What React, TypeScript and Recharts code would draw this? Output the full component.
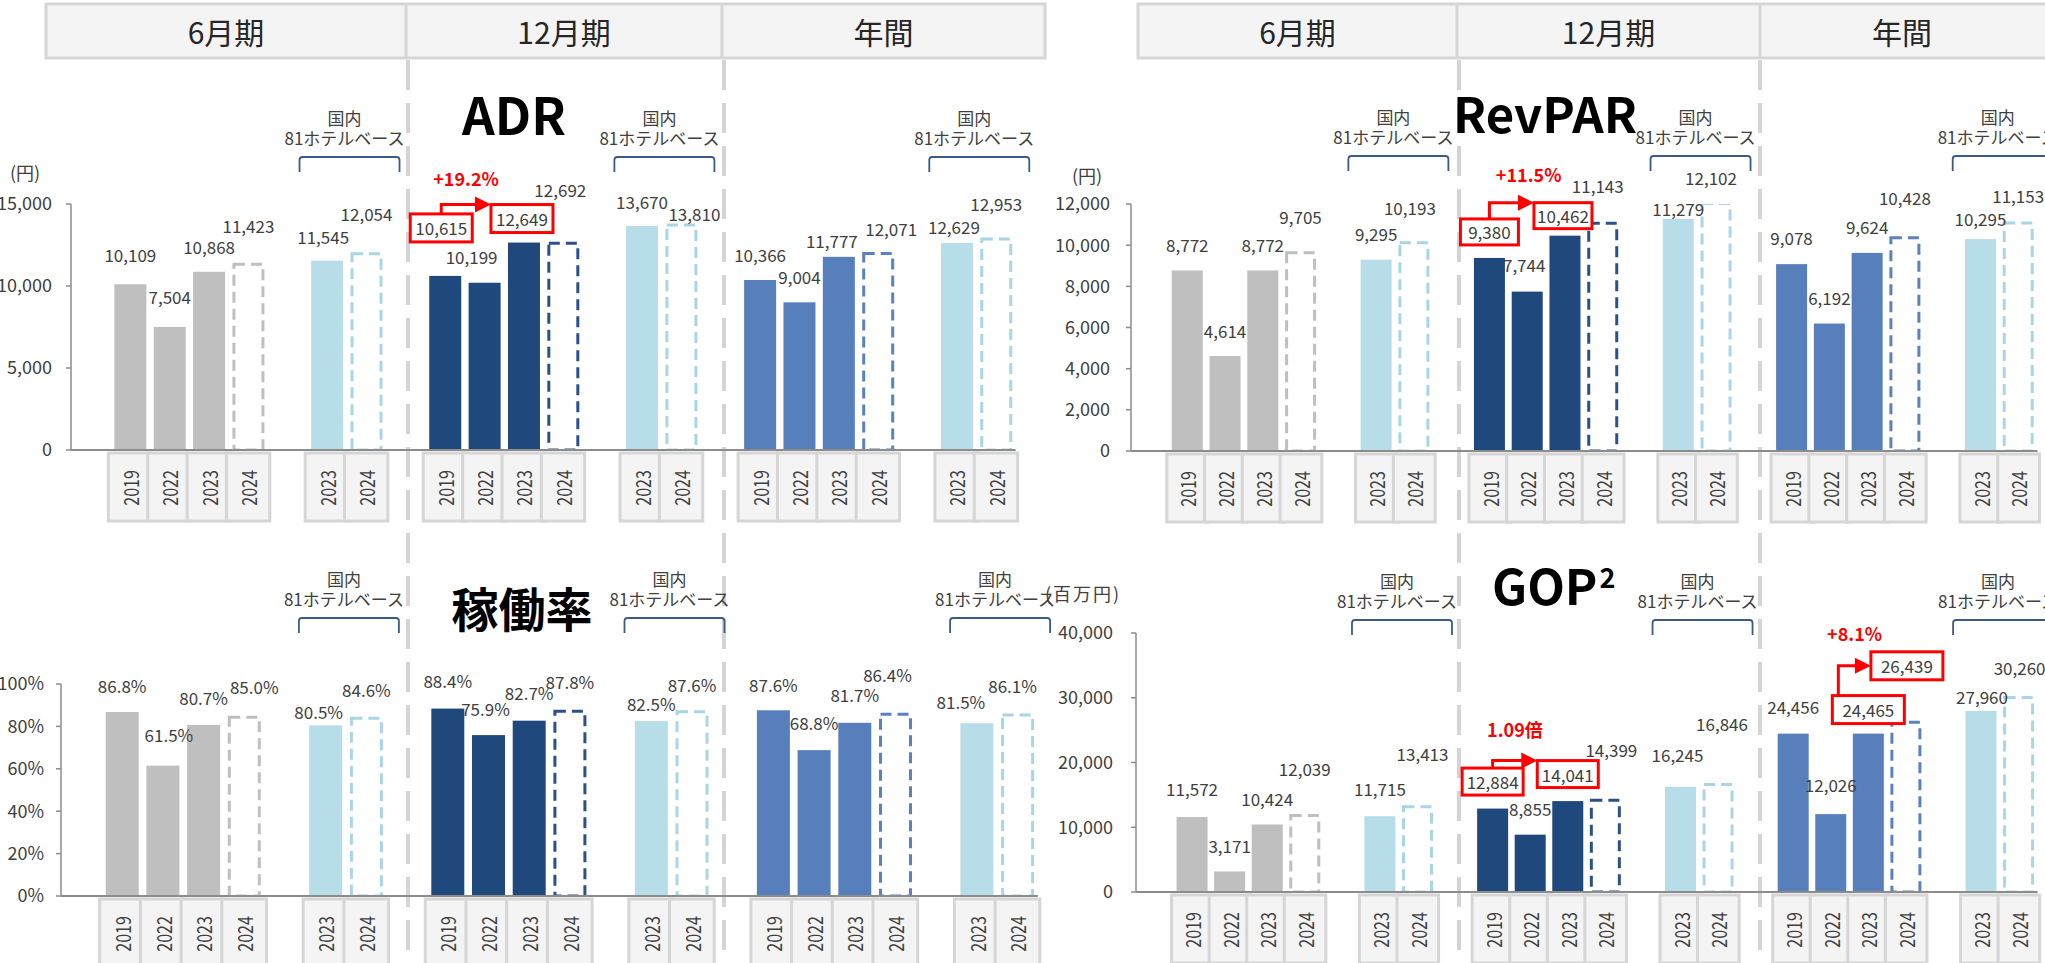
import React from 'react';
import { BarChart, Bar, XAxis, YAxis, LabelList } from 'recharts';

const FONT = "'Noto Sans CJK JP', 'Noto Sans', sans-serif";

const periods = ['6月期', '12月期', '年間'];
const yearsOwn = ['2019', '2022', '2023', '2024'];
const yearsHotel = ['2023', '2024'];
const hotelLines = ['国内', '81ホテルベース'];

// ADR (円)
const adrJun = [10109, 7504, 10868, 11423];
const adrJunHotel = [11545, 12054];
const adrDec = [10615, 10199, 12649, 12692];
const adrDecHotel = [13670, 13810];
const adrYear = [10366, 9004, 11777, 12071];
const adrYearHotel = [12629, 12953];
const adrTicks = [0, 5000, 10000, 15000];

// RevPAR (円)
const revJun = [8772, 4614, 8772, 9705];
const revJunHotel = [9295, 10193];
const revDec = [9380, 7744, 10462, 11143];
const revDecHotel = [11279, 12102];
const revYear = [9078, 6192, 9624, 10428];
const revYearHotel = [10295, 11153];
const revTicks = [0, 2000, 4000, 6000, 8000, 10000, 12000];

// 稼働率 (%)
const occJun = [86.8, 61.5, 80.7, 85.0];
const occJunHotel = [80.5, 84.6];
const occDec = [88.4, 75.9, 82.7, 87.8];
const occDecHotel = [82.5, 87.6];
const occYear = [87.6, 68.8, 81.7, 86.4];
const occYearHotel = [81.5, 86.1];
const occTicks = [0, 20, 40, 60, 80, 100];

// GOP (百万円)
const gopJun = [11572, 3171, 10424, 12039];
const gopJunHotel = [11715, 13413];
const gopDec = [12884, 8855, 14041, 14399];
const gopDecHotel = [16245, 16846];
const gopYear = [24456, 12026, 24465, 26439];
const gopYearHotel = [27960, 30260];
const gopTicks = [0, 10000, 20000, 30000, 40000];

const C = {
  gray: '#bfbfbf',
  light: '#b7dde8',
  navy: '#1f497d',
  blue: '#577fbc',
  text: '#404040',
  axis: '#8c8c8c',
  red: '#ff0000',
  bracket: '#3b5a8c',
  frame: '#d6d6d6',
  cell: '#f4f4f4',
};
const dashColor: Record<string, string> = {
  [C.gray]: '#bfbfbf',
  [C.light]: '#a9d6e4',
  [C.navy]: '#2b5189',
  [C.blue]: '#5a82be',
};

// 24 category slots: 0 is empty, gaps between groups are empty too
const groupSlots = [[1, 2, 3, 4], [6, 7], [9, 10, 11, 12], [14, 15], [17, 18, 19, 20], [22, 23]];
const groupColors = [C.gray, C.light, C.navy, C.light, C.blue, C.light];
const hotelCenters = [7, 15, 23];

type Row = { slot: string; year: string; value: number | null; color: string; dashed: boolean; k: number };

function buildRows(groups: number[][]): Row[] {
  const rows: Row[] = Array.from({ length: 24 }, (_, i) => ({
    slot: `s${i}`, year: '', value: null, color: '', dashed: false, k: -1,
  }));
  let k = 0;
  groups.forEach((vals, g) => {
    const years = vals.length === 4 ? yearsOwn : yearsHotel;
    vals.forEach((v, j) => {
      const r = rows[groupSlots[g][j]];
      r.year = years[j];
      r.value = v;
      r.color = groupColors[g];
      r.dashed = years[j] === '2024';
      r.k = k++;
    });
  });
  return rows;
}

type Note = {
  from: number; to: number; kind: 'pct' | 'times';
  w: number; h: number; arrowAt: 'top' | 'mid'; vertical: 'center' | 'left';
  textDx: number; textLift: number;
};

type Layout = {
  left: number; top: number; width: number; height: number;
  plotLeft: number; plotTop: number; plotBottom: number; slot: number;
  barSize: number; tickMargin: number; bracketTop: number;
};

type PanelCfg = {
  id: string;
  rows: Row[];
  ticks: number[];
  fmt: (v: number) => string;
  lift: number[];
  shift: number[];
  notes: Note[];
  layout: Layout;
};

const num = (v: number) => v.toLocaleString('en-US');
const pct = (v: number) => `${v.toFixed(1)}%`;

const panels: PanelCfg[] = [
  {
    id: 'adr',
    rows: buildRows([adrJun, adrJunHotel, adrDec, adrDecHotel, adrYear, adrYearHotel]),
    ticks: adrTicks,
    fmt: num,
    lift: [30, 30, 25, 37, 24, 39, 48, 26, 24, 52, 24, 10, 25, 26, 16, 24, 16, 34],
    shift: [0, 0, 0, 0, -4, 0, -4, -13, -2, -3, 0, 13, 0, 0, -7, 13, -3, 0],
    notes: [{ from: 6, to: 8, kind: 'pct', w: 62, h: 28, arrowAt: 'top', vertical: 'center', textDx: 0, textLift: 27 }],
    layout: { left: 0, top: 150, width: 1045, height: 380, plotLeft: 71, plotTop: 204, plotBottom: 450, slot: 39.36, barSize: 32, tickMargin: 14, bracketTop: 157 },
  },
  {
    id: 'revpar',
    rows: buildRows([revJun, revJunHotel, revDec, revDecHotel, revYear, revYearHotel]),
    ticks: revTicks,
    fmt: num,
    lift: [26, 26, 26, 35, 26, 34, 26, 27, 20, 36, 10, 24, 27, 26, 26, 39, 21, 26],
    shift: [0, 0, 0, 0, 0, -4, 0, -3, -2, -5, 0, -5, 0, 0, 0, 0, 0, 0],
    notes: [{ from: 6, to: 8, kind: 'pct', w: 58, h: 26, arrowAt: 'top', vertical: 'center', textDx: 17, textLift: 29 }],
    layout: { left: 1045, top: 150, width: 1000, height: 380, plotLeft: 1131, plotTop: 204, plotBottom: 451, slot: 37.77, barSize: 31, tickMargin: 16, bracketTop: 156 },
  },
  {
    id: 'occ',
    rows: buildRows([occJun, occJunHotel, occDec, occDecHotel, occYear, occYearHotel]),
    ticks: occTicks,
    fmt: pct,
    lift: [26, 31, 27, 29, 14, 27, 28, 27, 28, 28, 18, 26, 26, 28, 28, 38, 22, 28],
    shift: [0, 6, 0, 10, -7, 0, 0, -3, 0, 0, 0, 0, 0, 0, 0, -8, -16, -5],
    notes: [],
    layout: { left: 0, top: 560, width: 1045, height: 403, plotLeft: 61, plotTop: 684, plotBottom: 896, slot: 40.7, barSize: 33, tickMargin: 12, bracketTop: 618 },
  },
  {
    id: 'gop',
    rows: buildRows([gopJun, gopJunHotel, gopDec, gopDecHotel, gopYear, gopYearHotel]),
    ticks: gopTicks,
    fmt: num,
    lift: [29, 26, 26, 46, 28, 52, 27, 26, 27, 49, 32, 59, 27, 30, 24, 55, 14, 29],
    shift: [0, 0, 0, 0, 0, 5, 0, 0, 0, 6, -3, 4, 0, 0, 0, 1, 1, 1],
    notes: [
      { from: 6, to: 8, kind: 'times', w: 61, h: 27, arrowAt: 'top', vertical: 'center', textDx: 0, textLift: 32 },
      { from: 14, to: 15, kind: 'pct', w: 72, h: 28, arrowAt: 'mid', vertical: 'left', textDx: 0, textLift: 33 },
    ],
    layout: { left: 1045, top: 560, width: 1000, height: 403, plotLeft: 1136, plotTop: 633, plotBottom: 892, slot: 37.57, barSize: 31, tickMargin: 18, bracketTop: 620 },
  },
];

const Y_AXIS_W = 60;
const X_AXIS_H = 60;

function SlotTick(props: any) {
  const { x, y, payload, rows, slot } = props;
  const row = (rows as Row[]).find((r) => r.slot === payload.value);
  if (!row || !row.year) return <g />;
  const w = slot + 4;
  return (
    <g>
      <rect x={x - w / 2} y={y + 3} width={w} height={68} fill={C.cell} stroke={C.frame} strokeWidth={3} />
      <text
        transform={`translate(${x},${y + 38}) rotate(-90) scale(1,1.25)`}
        textAnchor="middle"
        dominantBaseline="central"
        fontSize={16}
        fontFamily={FONT}
        fill={C.text}
      >
        {row.year}
      </text>
    </g>
  );
}

function BarShape(props: any) {
  const { x, y, width, height, payload } = props;
  if (payload == null || payload.value == null || !(height > 0)) return <g />;
  if (payload.dashed) {
    return (
      <rect
        x={x + 1.5}
        y={y + 1.5}
        width={width - 3}
        height={height - 1.5}
        fill="#ffffff"
        stroke={dashColor[payload.color]}
        strokeWidth={3}
        strokeDasharray="11 6"
      />
    );
  }
  return <rect x={x} y={y} width={width} height={height} fill={payload.color} />;
}

function Panel({ cfg }: { cfg: PanelCfg }) {
  const L = cfg.layout;
  const plotW = L.slot * 24;
  const margin = {
    top: L.plotTop - L.top,
    left: L.plotLeft - L.left - Y_AXIS_W,
    right: L.left + L.width - (L.plotLeft + plotW),
    bottom: L.top + L.height - L.plotBottom - X_AXIS_H,
  };
  const domain = [cfg.ticks[0], cfg.ticks[cfg.ticks.length - 1]];
  // labels come only for the drawn bars, so their index runs over the filled rows
  const filled = cfg.rows.filter((r) => r.value != null);

  // label centres of annotated points, filled while the labels render in order
  const seen: Record<number, { cx: number; cy: number }> = {};

  const renderLabel = (props: any) => {
    const row = filled[props.index];
    if (!row || row.value == null) return <g />;
    const vb = props.viewBox || props;
    const bx = vb.x ?? props.x;
    const by = vb.y ?? props.y;
    const bw = vb.width ?? props.width;
    const cx = bx + bw / 2 + (cfg.shift[row.k] ?? 0);
    const cy = by - cfg.lift[row.k];
    const text = (
      <text x={cx} y={cy} textAnchor="middle" dominantBaseline="central" fontSize={17} fontFamily={FONT} fill={C.text}>
        {cfg.fmt(row.value)}
      </text>
    );
    const asFrom = cfg.notes.find((n) => n.from === row.k);
    const asTo = cfg.notes.find((n) => n.to === row.k);
    const note = asFrom || asTo;
    if (!note) return text;
    seen[row.k] = { cx, cy };
    const box = (
      <rect x={cx - note.w / 2} y={cy - note.h / 2} width={note.w} height={note.h} fill="#ffffff" stroke={C.red} strokeWidth={3} />
    );
    if (!asTo || !seen[asTo.from]) {
      return (
        <g>
          {box}
          {text}
        </g>
      );
    }
    const a = seen[asTo.from];
    const va = filled[asTo.from].value as number;
    const ratio = row.value / va;
    const caption = asTo.kind === 'pct' ? `+${((ratio - 1) * 100).toFixed(1)}%` : `${ratio.toFixed(2)}倍`;
    const aTop = a.cy - asTo.h / 2;
    const bLeft = cx - asTo.w / 2;
    const vx = asTo.vertical === 'center' ? a.cx : a.cx - asTo.w / 2 + 6;
    const ay = asTo.arrowAt === 'top' ? cy - asTo.h / 2 : cy;
    return (
      <g>
        <path d={`M${vx},${aTop} V${ay} H${bLeft - 14}`} fill="none" stroke={C.red} strokeWidth={3} />
        <polygon points={`${bLeft - 16},${ay - 8} ${bLeft},${ay} ${bLeft - 16},${ay + 8}`} fill={C.red} />
        {box}
        {text}
        <text
          x={(vx + bLeft) / 2 + asTo.textDx}
          y={ay - asTo.textLift}
          textAnchor="middle"
          dominantBaseline="central"
          fontSize={18}
          fontWeight={700}
          fontFamily={FONT}
          fill={C.red}
        >
          {caption}
        </text>
      </g>
    );
  };

  return (
    <div style={{ position: 'absolute', left: L.left, top: L.top }}>
      <BarChart width={L.width} height={L.height} data={cfg.rows} margin={margin} barSize={L.barSize}>
        <XAxis
          dataKey="slot"
          interval={0}
          height={X_AXIS_H}
          tickLine={false}
          tickSize={0}
          tickMargin={0}
          axisLine={{ stroke: C.axis, strokeWidth: 2 }}
          tick={(p: any) => <SlotTick {...p} rows={cfg.rows} slot={L.slot} />}
        />
        <YAxis
          width={Y_AXIS_W}
          type="number"
          domain={domain}
          ticks={cfg.ticks}
          interval={0}
          allowDataOverflow
          tickFormatter={(v: number) => (cfg.id === 'occ' ? `${v}%` : num(v))}
          tick={{ fill: C.text, fontSize: 18, fontFamily: FONT }}
          axisLine={{ stroke: C.axis, strokeWidth: 1.5 }}
          tickLine={{ stroke: C.axis, strokeWidth: 1.5 }}
          tickSize={5}
          tickMargin={L.tickMargin}
        />
        <Bar dataKey="value" isAnimationActive={false} shape={(p: any) => <BarShape {...p} />}>
          <LabelList dataKey="value" content={renderLabel} />
        </Bar>
      </BarChart>
    </div>
  );
}

function Header({ x, w, dividers }: { x: number; w: number; dividers: number[] }) {
  const edges = [x, ...dividers, Math.min(x + w, 2044)];
  return (
    <g>
      <rect x={x} y={4} width={w} height={54} fill={C.cell} stroke={C.frame} strokeWidth={3} />
      {dividers.map((d) => (
        <line key={d} x1={d} x2={d} y1={4} y2={58} stroke={C.frame} strokeWidth={3} />
      ))}
      {periods.map((p, i) => (
        <text
          key={p}
          x={(edges[i] + edges[i + 1]) / 2}
          y={31}
          textAnchor="middle"
          dominantBaseline="central"
          fontSize={30}
          fontFamily={FONT}
          fill="#262626"
        >
          {p}
        </text>
      ))}
    </g>
  );
}

function HotelMarks({ layout }: { layout: Layout }) {
  const t = layout.bracketTop;
  return (
    <g>
      {hotelCenters.map((s) => {
        const cx = layout.plotLeft + layout.slot * s;
        return (
          <g key={s}>
            <text x={cx - 2} y={t - 40} textAnchor="middle" dominantBaseline="central" fontSize={17} fontFamily={FONT} fill={C.text}>
              {hotelLines[0]}
            </text>
            <text x={cx - 2} y={t - 20} textAnchor="middle" dominantBaseline="central" fontSize={17} fontFamily={FONT} fill={C.text}>
              {hotelLines[1]}
            </text>
            <path
              d={`M${cx - 47},${t + 15} V${t + 3} Q${cx - 47},${t} ${cx - 44},${t} H${cx + 50} Q${cx + 53},${t} ${cx + 53},${t + 3} V${t + 15}`}
              fill="none"
              stroke={C.bracket}
              strokeWidth={1.8}
            />
          </g>
        );
      })}
    </g>
  );
}

function Backdrop() {
  const sep = [408, 724, 1459, 1760];
  return (
    <svg width={2045} height={963} style={{ position: 'absolute', left: 0, top: 0 }}>
      <Header x={46} w={999} dividers={[406, 722]} />
      <Header x={1138} w={912} dividers={[1457, 1760]} />
      {sep.map((x) => (
        <line key={x} x1={x} x2={x} y1={60} y2={963} stroke="#d4d4d4" strokeWidth={4} strokeDasharray="30 13" />
      ))}

      <text x={514} y={135} textAnchor="middle" fontSize={51} fontWeight={700} fontFamily={FONT} fill="#000">ADR</text>
      <text x={1545} y={133} textAnchor="middle" fontSize={49} fontWeight={700} fontFamily={FONT} fill="#000">RevPAR</text>
      <text x={522} y={627} textAnchor="middle" fontSize={47} fontWeight={700} fontFamily={FONT} fill="#000">稼働率</text>
      <text x={1492} y={605} fontSize={49} fontWeight={700} fontFamily={FONT} fill="#000">
        GOP
        <tspan dx={2} dy={-17} fontSize={27}>2</tspan>
      </text>

      <text x={10} y={172} dominantBaseline="central" fontSize={18} fontFamily={FONT} fill={C.text}>(円)</text>
      <text x={1072} y={175} dominantBaseline="central" fontSize={18} fontFamily={FONT} fill={C.text}>(円)</text>
      <text x={1045} y={593} dominantBaseline="central" fontSize={18} letterSpacing={2} fontFamily={FONT} fill={C.text}>(百万円)</text>

      {panels.map((p) => (
        <HotelMarks key={p.id} layout={p.layout} />
      ))}
    </svg>
  );
}

export default function App() {
  return (
    <div
      style={{
        position: 'absolute',
        left: 0,
        top: 0,
        width: 2045,
        height: 963,
        background: '#ffffff',
        overflow: 'hidden',
        fontFamily: FONT,
      }}
    >
      <Backdrop />
      {panels.map((p) => (
        <Panel key={p.id} cfg={p} />
      ))}
    </div>
  );
}
